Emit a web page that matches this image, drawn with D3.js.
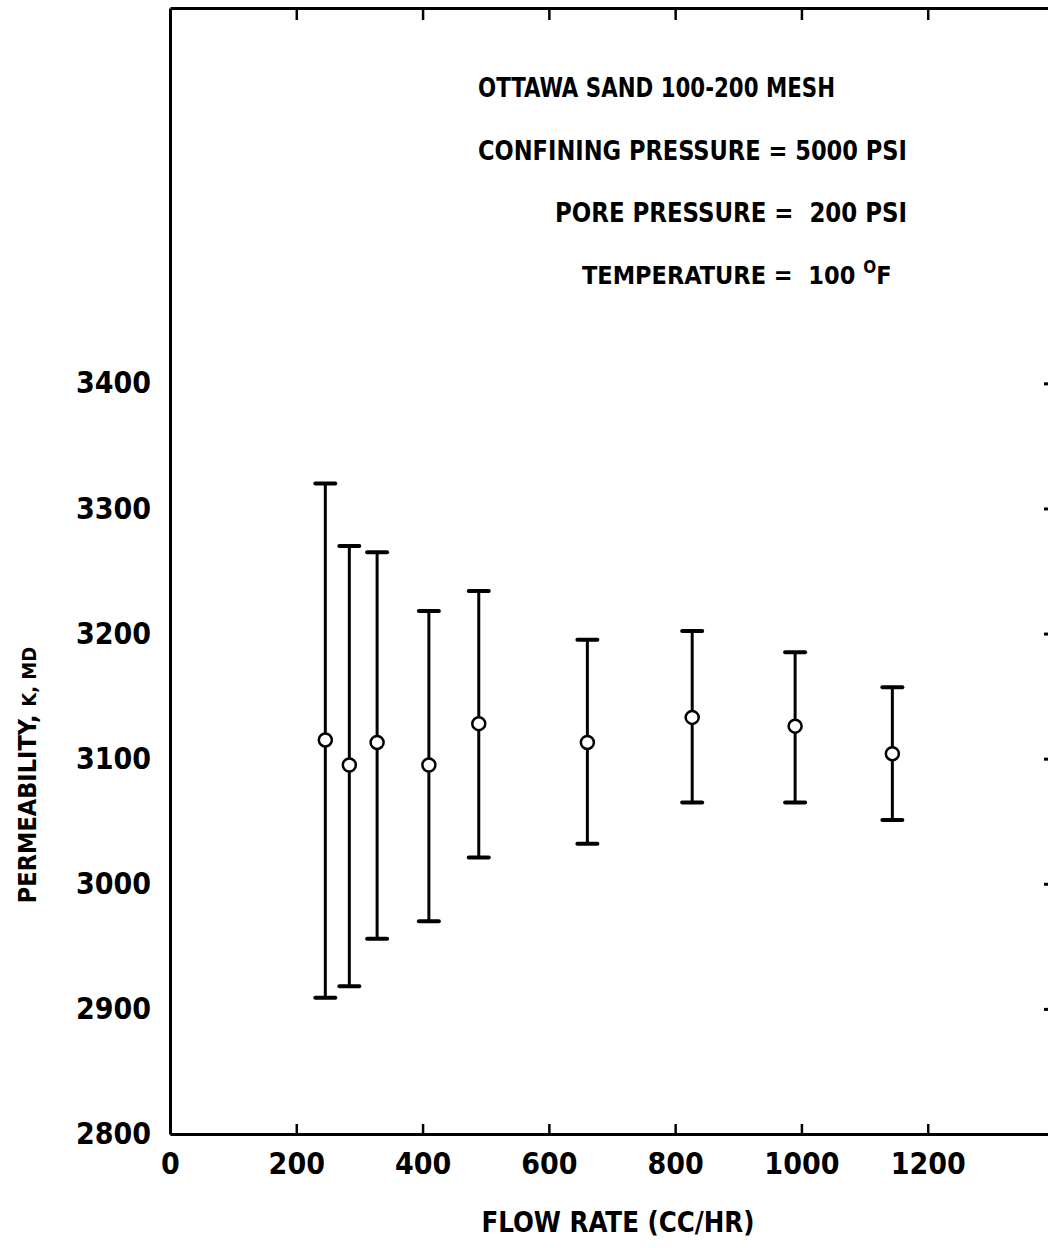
<!DOCTYPE html>
<html>
<head>
<meta charset="utf-8">
<script src="https://cdn.jsdelivr.net/npm/d3@7"></script>
<style>
  html, body { margin: 0; padding: 0; background: #fff; }
  svg { display: block; }
  .axis path, .axis line { stroke: #000; }
  .axis text { font-family: "DejaVu Sans Condensed", "Liberation Sans Narrow", sans-serif; font-weight: bold; fill: #000; }
  .note { font-family: "DejaVu Sans Condensed", sans-serif; font-weight: bold; fill: #000; white-space: pre; }
</style>
</head>
<body>
<div id="chart"></div>
<script>
// values
const flowRate = [246, 284, 328, 410, 489, 661, 827, 990, 1144];
const permMean = [3115, 3095, 3113, 3095, 3128, 3113, 3133, 3126, 3104];
const permHigh = [3320, 3270, 3265, 3218, 3234, 3195, 3202, 3185, 3157];
const permLow = [2909, 2918, 2956, 2970, 3021, 3032, 3065, 3065, 3051];

const xTicks = [0, 200, 400, 600, 800, 1000, 1200];
const yTicks = [2800, 2900, 3000, 3100, 3200, 3300, 3400];

const xTitle = 'FLOW RATE (CC/HR)';
const yTitleMain = 'PERMEABILITY, ';
const yTitleUnit = 'K, MD';
const notes = [
  'OTTAWA SAND 100-200 MESH',
  'CONFINING PRESSURE = 5000 PSI',
  'PORE PRESSURE =  200 PSI'
];
const tempNote = 'TEMPERATURE =  100 ';

const width = 1048, height = 1248;
const plot = { left: 170, right: 1054, top: 8, bottom: 1134 };

const svg = d3.select('#chart').append('svg')
  .attr('width', width)
  .attr('height', height);

const x = d3.scaleLinear().domain([0, 1400]).range([plot.left, plot.right]);
const y = d3.scaleLinear().domain([2800, 3700]).range([plot.bottom, plot.top]);
const fmt = d3.format('d');

// bottom axis
svg.append('g')
  .attr('class', 'axis')
  .attr('transform', `translate(0,${plot.bottom})`)
  .call(d3.axisBottom(x).tickValues(xTicks).tickFormat(fmt).tickSize(-10).tickSizeOuter(0).tickPadding(19))
  .call(g => g.selectAll('text').style('font-size', '30px'))
  .call(g => g.selectAll('line').attr('stroke-width', 2.5))
  .call(g => g.select('.domain').attr('stroke-width', 3));

// left axis, labels only
svg.append('g')
  .attr('class', 'axis')
  .attr('transform', `translate(${plot.left},0)`)
  .call(d3.axisLeft(y).tickValues(yTicks).tickFormat(fmt).tickSize(0).tickSizeOuter(0).tickPadding(19))
  .call(g => g.selectAll('text').style('font-size', '30px'))
  .call(g => g.select('.domain').attr('stroke-width', 3));

// top axis
svg.append('g')
  .attr('class', 'axis')
  .attr('transform', `translate(0,${plot.top})`)
  .call(d3.axisTop(x).tickValues(xTicks.slice(1)).tickSize(-12).tickSizeOuter(0).tickFormat(''))
  .call(g => g.selectAll('line').attr('stroke-width', 2.5))
  .call(g => g.select('.domain').attr('stroke-width', 3));

// right axis
svg.append('g')
  .attr('class', 'axis')
  .attr('transform', `translate(${plot.right},0)`)
  .call(d3.axisRight(y).tickValues(yTicks.slice(1)).tickSize(-10).tickSizeOuter(0).tickFormat(''))
  .call(g => g.selectAll('line').attr('stroke-width', 3))
  .call(g => g.select('.domain').attr('stroke-width', 3));

// error bars
const pts = flowRate.map((f, i) => ({ f, m: permMean[i], hi: permHigh[i], lo: permLow[i] }));
const bars = svg.append('g').attr('class', 'error-bars');

bars.selectAll('.stem')
  .data(pts)
  .join('line')
  .attr('class', 'stem')
  .attr('x1', d => x(d.f)).attr('x2', d => x(d.f))
  .attr('y1', d => y(d.hi)).attr('y2', d => y(d.lo))
  .attr('stroke', '#000')
  .attr('stroke-width', 3);

['hi', 'lo'].forEach(k => {
  bars.selectAll('.cap-' + k)
    .data(pts)
    .join('line')
    .attr('class', 'cap-' + k)
    .attr('x1', d => x(d.f) - 10).attr('x2', d => x(d.f) + 10)
    .attr('y1', d => y(d[k])).attr('y2', d => y(d[k]))
    .attr('stroke', '#000')
    .attr('stroke-width', 4)
    .attr('stroke-linecap', 'round');
});

bars.selectAll('circle')
  .data(pts)
  .join('circle')
  .attr('cx', d => x(d.f))
  .attr('cy', d => y(d.m))
  .attr('r', 6.5)
  .attr('fill', '#fff')
  .attr('stroke', '#000')
  .attr('stroke-width', 2.5);

// axis titles
svg.append('text')
  .attr('class', 'note')
  .attr('x', 618)
  .attr('y', 1232)
  .attr('text-anchor', 'middle')
  .style('font-size', '28px')
  .attr('textLength', 273)
  .attr('lengthAdjust', 'spacingAndGlyphs')
  .text(xTitle);

const yt = svg.append('text')
  .attr('class', 'note')
  .attr('transform', 'translate(36,775) rotate(-90)')
  .attr('text-anchor', 'middle')
  .style('font-size', '25px');
yt.append('tspan').text(yTitleMain);
yt.append('tspan').style('font-size', '20px').text(yTitleUnit);

// condition notes
const noteX = [478, 478, 555];
const noteY = [97, 160, 222];
const noteW = [357, 429, 352];
notes.forEach((t, i) => {
  svg.append('text')
    .attr('class', 'note')
    .attr('x', noteX[i])
    .attr('y', noteY[i])
    .style('font-size', '27px')
    .attr('textLength', noteW[i])
    .attr('lengthAdjust', 'spacingAndGlyphs')
    .text(t);
});

// temperature line, degree mark raised inside the same text
const temp = svg.append('text')
  .attr('class', 'note')
  .attr('x', 582)
  .attr('y', 284)
  .style('font-size', '25px');
temp.append('tspan').text(tempNote);
temp.append('tspan').attr('dy', -11).style('font-size', '17px').text('O');
temp.append('tspan').attr('dy', 11).text('F');
</script>
</body>
</html>
